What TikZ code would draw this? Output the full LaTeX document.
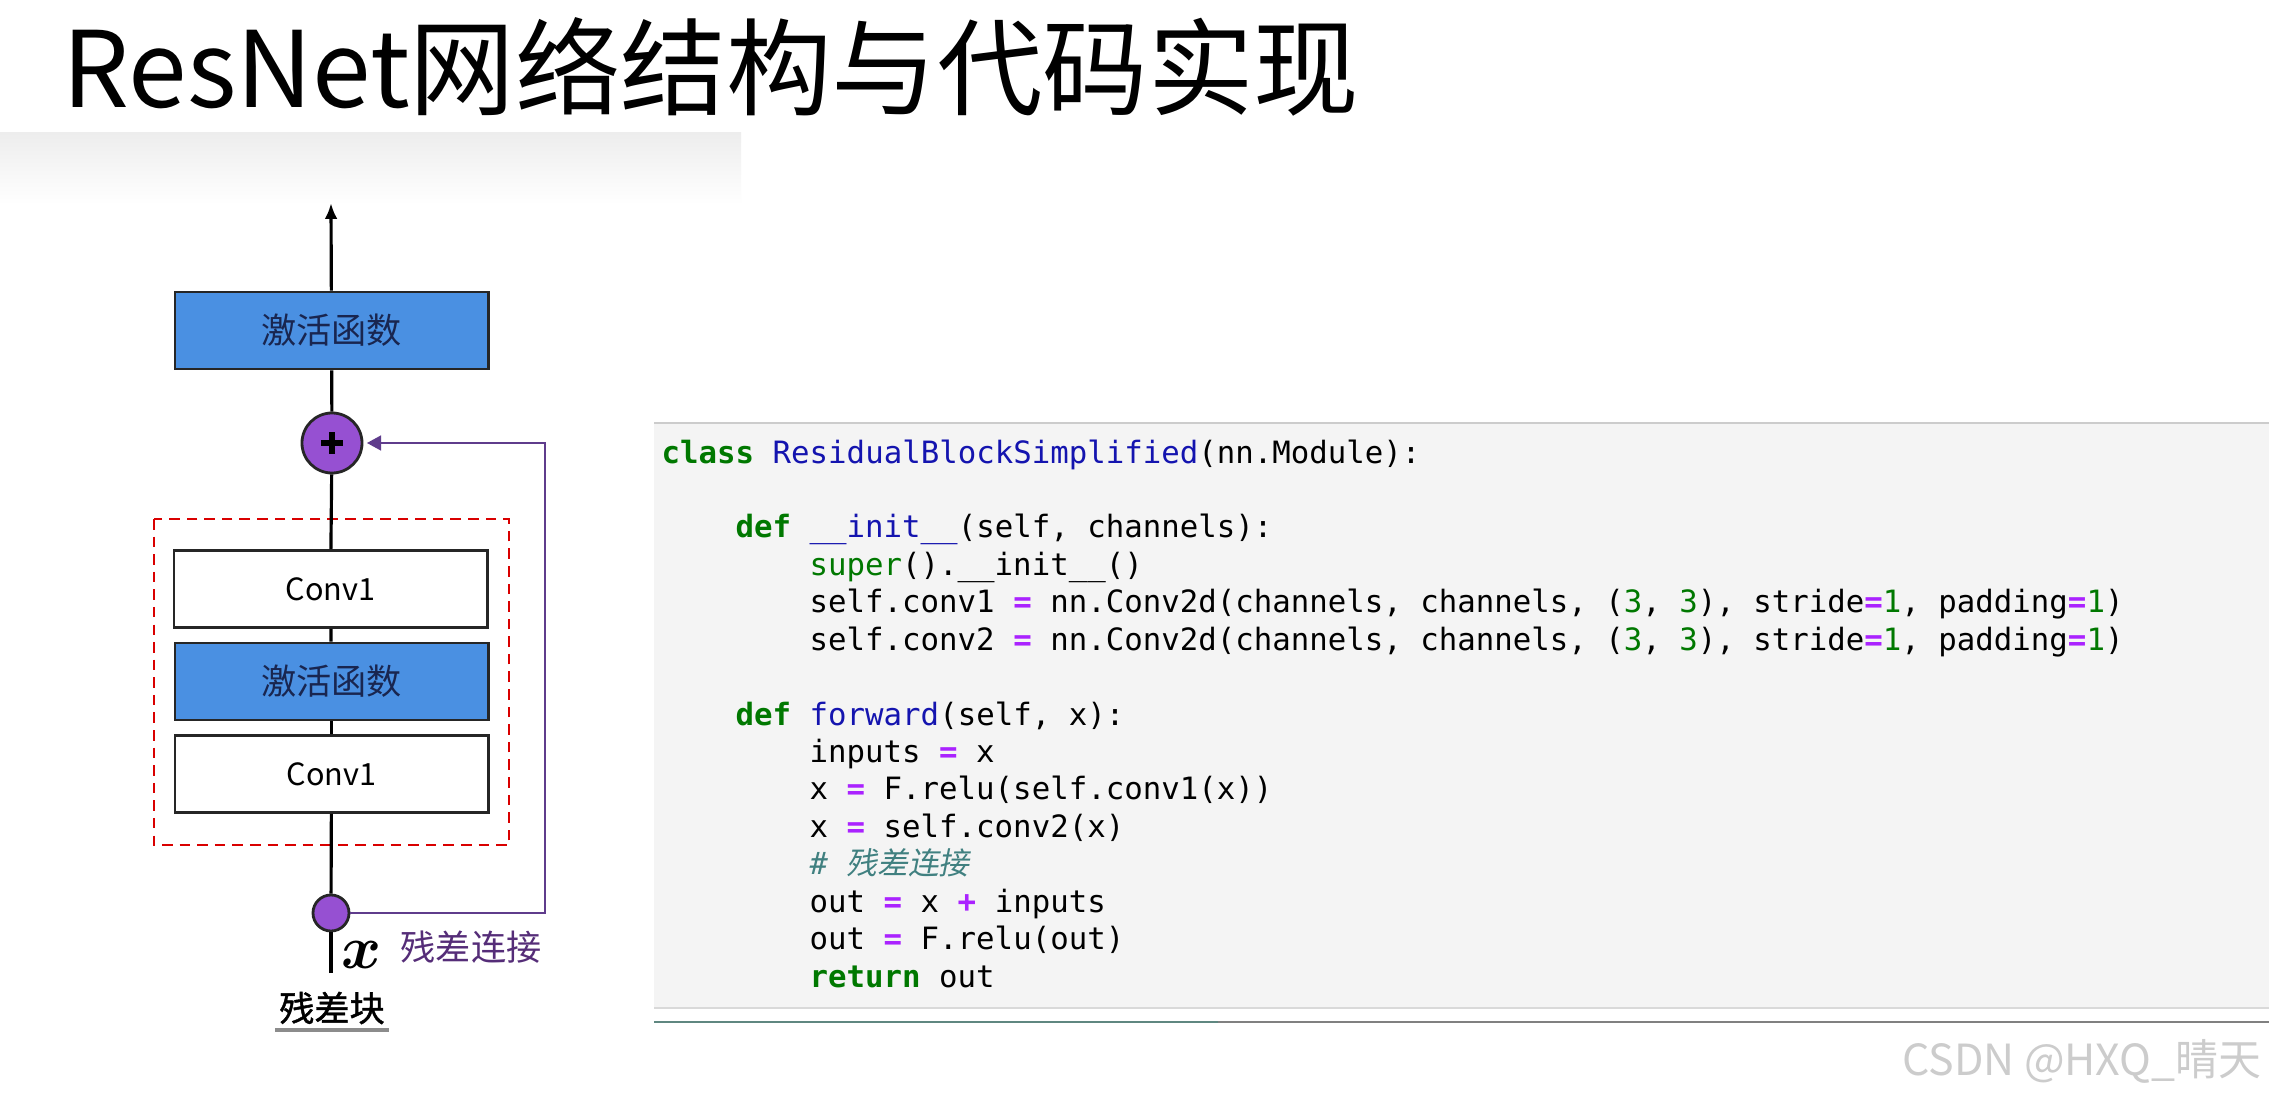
\documentclass[tikz,border=0pt]{standalone}
\usepackage{fontspec}
\usepackage{tikz}
\usepackage{xcolor}
\usetikzlibrary{arrows.meta, positioning, calc}
\newfontfamily\cjk{Noto Sans CJK SC}
\newfontfamily\cjkbold{Noto Sans CJK SC}[FakeBold=1.2]
\newfontfamily\cjkit{Noto Sans CJK SC}[FakeSlant=0.2]
\newfontfamily\codefont{DejaVu Sans Mono}

\definecolor{actblue}{RGB}{74,144,226}
\definecolor{navytext}{RGB}{25,38,80}
\definecolor{dotpurple}{RGB}{150,80,210}
\definecolor{skipcol}{RGB}{95,60,140}
\definecolor{skiptext}{RGB}{85,45,120}
\definecolor{codebg}{RGB}{244,244,244}
\definecolor{tealgray}{RGB}{95,135,128}
\definecolor{pygreen}{RGB}{0,120,0}
\definecolor{pyblue}{RGB}{20,20,175}
\definecolor{pypurple}{RGB}{170,34,255}
\definecolor{pycom}{RGB}{64,128,128}

\newcommand{\pykw}[1]{{\bfseries\color{pygreen}#1}}
\newcommand{\pybuiltin}[1]{{\color{pygreen}#1}}
\newcommand{\pyname}[1]{{\color{pyblue}#1}}
\newcommand{\pyop}[1]{{\bfseries\color{pypurple}#1}}
\newcommand{\pynum}[1]{{\color{pygreen}#1}}
\newcommand{\pycomment}[1]{{\itshape\color{pycom}#1}}

\begin{document}
\begin{tikzpicture}[x=0.01cm, y=-0.01cm,
  blk/.style={draw=black!85, line width=0.8pt, minimum width=3.13cm, minimum height=0.77cm,
    inner sep=0pt, font=\cjk\fontsize{10}{12}\selectfont},
  act/.style={blk, fill=actblue, text=navytext},
  conv/.style={blk, fill=white, text=black, font=\cjk\fontsize{8.7}{10}\selectfont},
  dot/.style={circle, draw=black!85, fill=dotpurple, line width=0.8pt, inner sep=0pt},
  flow/.style={black, line width=0.9pt},
  skipline/.style={skipcol, line width=0.6pt},
  code/.style={anchor=base west, inner sep=0pt, font=\codefont\fontsize{8.74}{10}\selectfont\frenchspacing}]
\useasboundingbox (0,0) rectangle (2269,1097);
\fill[white] (0,0) rectangle (2269,1097);

% Title
\node[anchor=base west, inner sep=0pt, font=\cjk\fontsize{30}{36}\selectfont] (title) at (62,108) {ResNet网络结构与代码实现};
\shade[top color=black!7, bottom color=white] (0,133) rectangle (741,205);

% Residual block
\draw[red!85!black, line width=0.6pt, dash pattern=on 3pt off 2pt] (154,519) rectangle (509,845);
\node[act] (act2) at (331.5,330.5) {激活函数};
\node[dot, minimum size=0.6cm] (add) at (332,443) {};
\draw[line width=1.7pt] ($(add)+(-11,0)$) -- ($(add)+(11,0)$);
\draw[line width=1.7pt] ($(add)+(0,-11)$) -- ($(add)+(0,11)$);
\node[conv] (conv1) at (330.5,589) {Conv1};
\node[act] (act1) at (331.5,681.5) {激活函数};
\node[conv] (conv2) at (331.5,774) {Conv1};
\node[dot, minimum size=0.36cm] (xin) at (331,913) {};
\coordinate (out) at (331,203);
\coordinate (in) at (331,973);
\coordinate (loop) at (545,913);

\draw[flow, -{Latex[length=4.5pt, width=3.6pt]}] (act2) -- (out);
\draw[flow] (add) -- (act2);
\draw[flow] (conv1) -- (add);
\draw[flow] (act1) -- (conv1);
\draw[flow] (conv2) -- (act1);
\draw[flow] (xin) -- (conv2);
\draw[flow] (in) -- (xin);
\draw[skipline, -{Triangle[length=4pt, width=4.2pt]}, shorten >=1pt] (xin) -- (loop) |- (add);

\node[inner sep=0pt, font=\boldmath\fontsize{16}{16}\selectfont] (xlab) at (362,955) {$x$};
\node[inner sep=0pt, text=skiptext, font=\cjk\fontsize{10}{12}\selectfont] (skiplab) at (471,947) {残差连接};
\node[inner sep=0pt, font=\cjkbold\fontsize{10}{12}\selectfont] (blocklab) at (332,1008) {残差块};
\draw[black!45, line width=1pt] ([xshift=-1pt, yshift=-1.5pt]blocklab.south west) -- ([xshift=1pt, yshift=-1.5pt]blocklab.south east);

% Code panel
\fill[codebg] (654,423) rectangle (2269,1008);
\draw[black!20, line width=0.6pt] (654,423) -- (2269,423);
\draw[black!15, line width=0.5pt] (654,1008) -- (2269,1008);
\draw[tealgray, line width=0.8pt] (654,1022) -- (1218,1022);
\draw[black!50, line width=0.8pt] (1218,1022) -- (2269,1022);

\node[code] (code1) at (661,463) {\pykw{class} \pyname{ResidualBlockSimplified}(nn.Module):};
\node[code] (code3) at (735,537.9) {\pykw{def} \pyname{\_\_init\_\_}(self, channels):};
\node[code] (code4) at (809,575.3) {\pybuiltin{super}().\_\_init\_\_()};
\node[code] (code5) at (809,612.7) {self.conv1 \pyop{=} nn.Conv2d(channels, channels, (\pynum{3}, \pynum{3}), stride\pyop{=}\pynum{1}, padding\pyop{=}\pynum{1})};
\node[code] (code6) at (809,650.2) {self.conv2 \pyop{=} nn.Conv2d(channels, channels, (\pynum{3}, \pynum{3}), stride\pyop{=}\pynum{1}, padding\pyop{=}\pynum{1})};
\node[code] (code8) at (735,725.0) {\pykw{def} \pyname{forward}(self, x):};
\node[code] (code9) at (809,762.4) {inputs \pyop{=} x};
\node[code] (code10) at (809,799.9) {x \pyop{=} F.relu(self.conv1(x))};
\node[code] (code11) at (809,837.3) {x \pyop{=} self.conv2(x)};
\node[code] (code12) at (809,874.7) {\pycomment{\# {\cjkit 残差连接}}};
\node[code] (code13) at (809,912.2) {out \pyop{=} x \pyop{+} inputs};
\node[code] (code14) at (809,949.6) {out \pyop{=} F.relu(out)};
\node[code] (code15) at (809,987.0) {\pykw{return} out};

% Watermark
\node[anchor=east, inner sep=0pt, text=black!20, font=\cjk\fontsize{12.2}{14}\selectfont] (mark) at (2262,1061) {CSDN @HXQ\_晴天};
\end{tikzpicture}
\end{document}
